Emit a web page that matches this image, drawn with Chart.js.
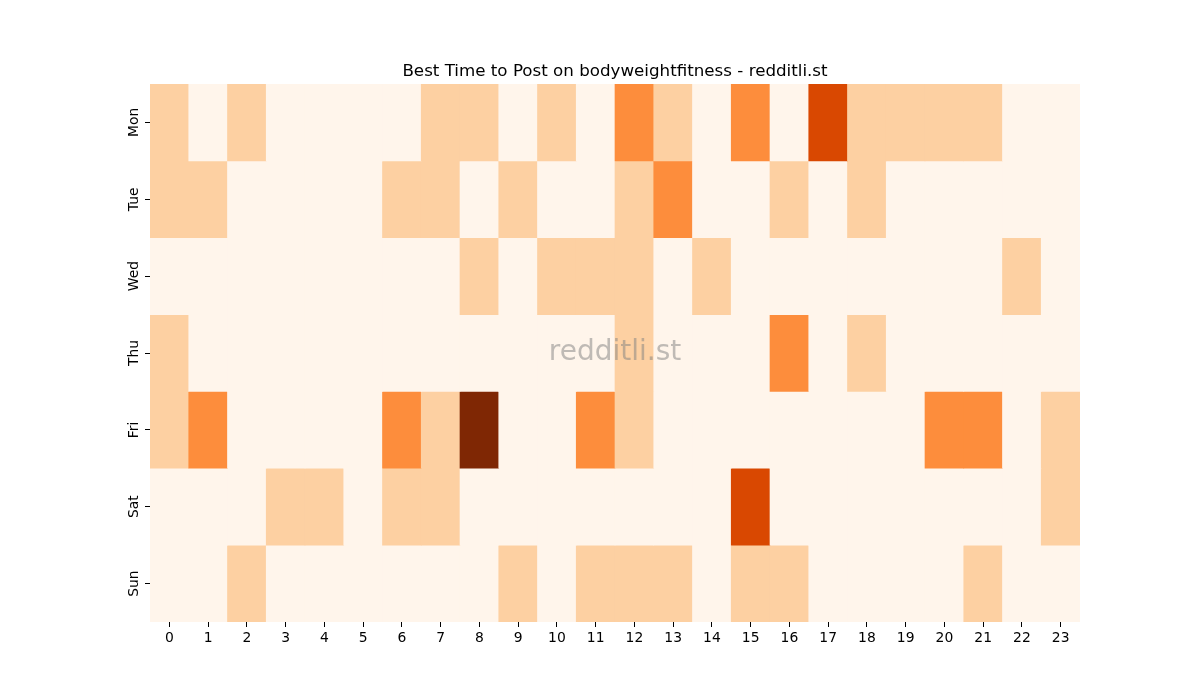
<!DOCTYPE html>
<html>
<head>
<meta charset="utf-8">
<script src="https://cdn.jsdelivr.net/npm/chart.js@4/dist/chart.umd.min.js"></script>
<style>
  html, body { margin: 0; padding: 0; background: #fff; }
  #wrap { width: 1200px; height: 700px; }
</style>
</head>
<body>
<div id="wrap"><canvas id="heatmap"></canvas></div>
<script>
const days = ['Mon', 'Tue', 'Wed', 'Thu', 'Fri', 'Sat', 'Sun'];
const hours = ['0', '1', '2', '3', '4', '5', '6', '7', '8', '9', '10', '11',
  '12', '13', '14', '15', '16', '17', '18', '19', '20', '21', '22', '23'];

// post-count level per hour, one array per day
const mon = [1, 0, 1, 0, 0, 0, 0, 1, 1, 0, 1, 0, 2, 1, 0, 2, 0, 3, 1, 1, 1, 1, 0, 0];
const tue = [1, 1, 0, 0, 0, 0, 1, 1, 0, 1, 0, 0, 1, 2, 0, 0, 1, 0, 1, 0, 0, 0, 0, 0];
const wed = [0, 0, 0, 0, 0, 0, 0, 0, 1, 0, 1, 1, 1, 0, 1, 0, 0, 0, 0, 0, 0, 0, 1, 0];
const thu = [1, 0, 0, 0, 0, 0, 0, 0, 0, 0, 0, 0, 1, 0, 0, 0, 2, 0, 1, 0, 0, 0, 0, 0];
const fri = [1, 2, 0, 0, 0, 0, 2, 1, 4, 0, 0, 2, 1, 0, 0, 0, 0, 0, 0, 0, 2, 2, 0, 1];
const sat = [0, 0, 0, 1, 1, 0, 1, 1, 0, 0, 0, 0, 0, 0, 0, 3, 0, 0, 0, 0, 0, 0, 0, 1];
const sun = [0, 0, 1, 0, 0, 0, 0, 0, 0, 1, 0, 1, 1, 1, 0, 1, 1, 0, 0, 0, 0, 1, 0, 0];
const grid = [mon, tue, wed, thu, fri, sat, sun];

// matplotlib "Oranges" sampled at 0, .25, .5, .75, 1
const palette = ['#fff5eb', '#fdd0a2', '#fd8d3c', '#d94801', '#7f2704'];

const datasets = grid.map((row, d) => ({
  label: days[d],
  data: row.map(() => [d, d + 1]),
  backgroundColor: row.map((v) => palette[v]),
  borderWidth: 0,
  borderSkipped: false,
  barPercentage: 1.0,
  categoryPercentage: 1.0,
  grouped: false
}));

const watermark = {
  id: 'watermark',
  afterDatasetsDraw(chart) {
    const { ctx, chartArea } = chart;
    ctx.save();
    ctx.font = '28px "DejaVu Sans", sans-serif';
    ctx.fillStyle = 'rgba(128, 128, 128, 0.5)';
    ctx.textAlign = 'center';
    ctx.textBaseline = 'middle';
    ctx.fillText('redditli.st', (chartArea.left + chartArea.right) / 2, (chartArea.top + chartArea.bottom) / 2);
    ctx.restore();
  }
};

Chart.defaults.font.family = '"DejaVu Sans", sans-serif';
Chart.defaults.color = '#000';

new Chart(document.getElementById('heatmap').getContext('2d'), {
  type: 'bar',
  data: { labels: hours, datasets },
  options: {
    responsive: true,
    maintainAspectRatio: false,
    animation: false,
    layout: { padding: { left: 0, right: 120, top: 0, bottom: 0 } },
    plugins: {
      legend: { display: false },
      tooltip: { enabled: false }
    },
    scales: {
      x: {
        type: 'category',
        offset: true,
        border: { display: false },
        grid: { display: true, offset: false, drawOnChartArea: false, drawTicks: true, tickLength: 5, color: '#000', tickWidth: 1 },
        ticks: { font: { size: 13.9 }, padding: 3, maxRotation: 0, autoSkip: false },
        afterFit(scale) { scale.height = 78; }
      },
      // top axis only carries the chart title, centred over the plot area
      xTop: {
        type: 'category',
        position: 'top',
        offset: true,
        border: { display: false },
        grid: { display: false },
        ticks: { display: false },
        title: {
          display: true,
          text: 'Best Time to Post on bodyweightfitness - redditli.st',
          font: { size: 16.7 },
          color: '#000',
          padding: { top: 62, bottom: 3 }
        },
        afterFit(scale) { scale.height = 84; }
      },
      y: {
        type: 'linear',
        min: 0,
        max: 7,
        reverse: true,
        border: { display: false },
        grid: { display: true, drawOnChartArea: false, drawTicks: true, tickLength: 5, color: '#000', tickWidth: 1 },
        afterBuildTicks(scale) {
          scale.ticks = days.map((_, i) => ({ value: i + 0.5 }));
        },
        ticks: {
          font: { size: 13.9 },
          padding: -5,
          minRotation: 90,
          maxRotation: 90,
          crossAlign: 'center',
          autoSkip: false,
          callback(value) { return days[Math.floor(value)]; }
        },
        afterFit(scale) { scale.width = 150; }
      }
    }
  },
  plugins: [watermark]
});
</script>
</body>
</html>
